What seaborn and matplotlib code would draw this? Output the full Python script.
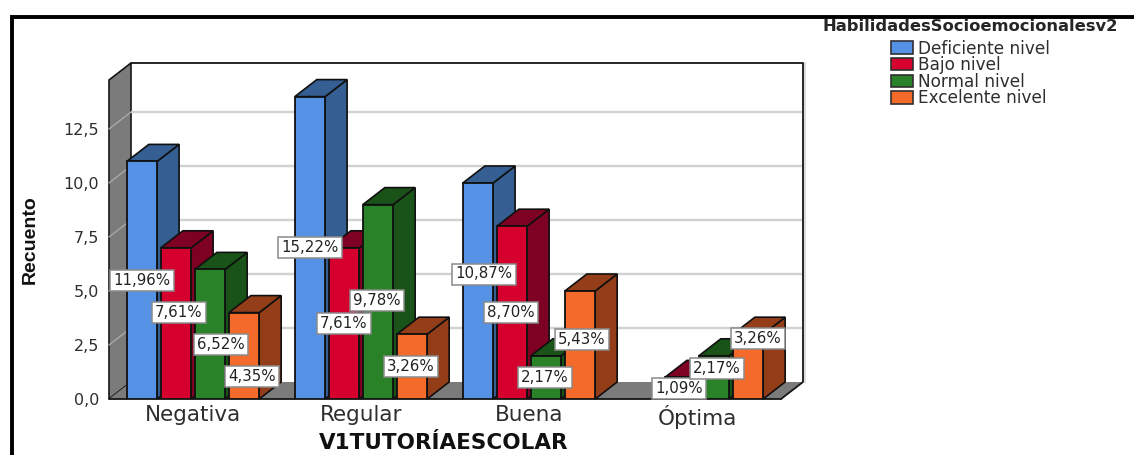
import matplotlib
matplotlib.use("Agg")
import matplotlib.pyplot as plt
from matplotlib.lines import Line2D
from matplotlib.patches import Polygon
import pandas as pd
import seaborn as sns

# Counts by tutoring rating and socio-emotional skill level
categories = ["Negativa", "Regular", "Buena", "Óptima"]
levels = ["Deficiente nivel", "Bajo nivel", "Normal nivel", "Excelente nivel"]
deficiente = [11, 14, 10, 0]
bajo = [7, 7, 8, 1]
normal = [6, 9, 2, 2]
excelente = [4, 3, 5, 3]

pct_deficiente = ["11,96%", "15,22%", "10,87%", ""]
pct_bajo = ["7,61%", "7,61%", "8,70%", "1,09%"]
pct_normal = ["6,52%", "9,78%", "2,17%", "2,17%"]
pct_excelente = ["4,35%", "3,26%", "5,43%", "3,26%"]

y_ticks = [0, 2.5, 5, 7.5, 10, 12.5]

front_colors = ["#5591e4", "#d6002f", "#2a8228", "#f46a2a"]
side_colors = ["#355e92", "#7e0022", "#1a5318", "#933e18"]

# Pixel nudges (right, up) moving value labels off one another
nudge_deficiente = [(0, 0), (0, 0), (6, 17), (0, 0)]
nudge_bajo = [(3, 11), (0, 0), (-1, 0), (-1, 0)]
nudge_normal = [(11, -10), (-1, 1), (-1, 0), (3, 9)]
nudge_excelente = [(8, -21), (-1, 0), (2, 6), (10, 28)]

W, H = 1134, 455
DEPTH_X, DEPTH_Y = 22, 17   # oblique depth of the pseudo-3D box, pixels
FONT = "DejaVu Sans"
TEXT = "#2e2e2e"

sns.set_style("white")
plt.rcParams["font.family"] = [FONT]

df = pd.DataFrame({
    "tutoria": categories * 4,
    "nivel": [lv for lv in levels for _ in categories],
    "recuento": deficiente + bajo + normal + excelente,
})

fig = plt.figure(figsize=(W / 100, H / 100), dpi=100)
ax = fig.add_axes([109 / W, 1 - 399 / H, 672 / W, 319 / H])

sns.barplot(data=df, x="tutoria", y="recuento", hue="nivel", order=categories,
            hue_order=levels, palette=front_colors, width=0.81, gap=0.11,
            saturation=1, edgecolor="#101010", linewidth=1.3, ax=ax)

ax.set_xlim(-0.5, 3.5)
ax.set_ylim(0, 319 / 21.6)
x_per_px = 4 / 672
y_per_px = (319 / 21.6) / 319
dx, dy = DEPTH_X * x_per_px, DEPTH_Y * y_per_px
x0, x1 = ax.get_xlim()
y1 = ax.get_ylim()[1]

# Box walls: left wall, floor, back plane
wall = "#7b7b7b"
frame = "#151515"
ax.add_patch(Polygon([(x0, 0), (x0 + dx, dy), (x0 + dx, y1 + dy), (x0, y1)],
                     closed=True, fc=wall, ec=frame, lw=1.2, clip_on=False, zorder=1))
ax.add_patch(Polygon([(x0, 0), (x1, 0), (x1 + dx, dy), (x0 + dx, dy)],
                     closed=True, fc=wall, ec="none", clip_on=False, zorder=1))
for v in y_ticks[1:]:
    ax.plot([x0 + dx, x1 + dx], [v + dy, v + dy], color="#d2d2d2", lw=1.7,
            clip_on=False, zorder=1.5, solid_capstyle="butt")
    ax.plot([x0, x0 + dx], [v, v + dy], color="#a8a8a8", lw=1.0,
            clip_on=False, zorder=1.5)
ax.plot([x0 + dx, x1 + dx, x1 + dx, x1], [y1 + dy, y1 + dy, dy, 0],
        color=frame, lw=1.3, clip_on=False, zorder=1.6)
ax.plot([x1 + dx + 2 * x_per_px] * 2, [dy, y1 + dy], color="#dcdcdc", lw=1.6,
        clip_on=False, zorder=1)
ax.plot([x0, x1], [0, 0], color=frame, lw=1.3, clip_on=False, zorder=1.6)

# Extrude each bar with a side and a top face, painted left to right
bars = []
for h_idx, cont in enumerate(ax.containers):
    for bar in cont:
        bars.append((bar.get_x(), bar, side_colors[h_idx]))
bars.sort(key=lambda b: b[0])
for i, (_, bar, shade) in enumerate(bars):
    left, w, h = bar.get_x(), bar.get_width(), bar.get_height()
    z = 3 + i * 0.1
    bar.set_zorder(z)
    if h == 0:
        bar.set_visible(False)
        continue
    right = left + w
    ax.add_patch(Polygon([(right, 0), (right + dx, dy), (right + dx, h + dy), (right, h)],
                         closed=True, fc=shade, ec="#101010", lw=1.2, zorder=z - 0.05, clip_on=False))
    ax.add_patch(Polygon([(left, h), (right, h), (right + dx, h + dy), (left + dx, h + dy)],
                         closed=True, fc=shade, ec="#101010", lw=1.2, zorder=z - 0.05, clip_on=False))

# Boxed percentage labels
all_pct = [pct_deficiente, pct_bajo, pct_normal, pct_excelente]
all_nudge = [nudge_deficiente, nudge_bajo, nudge_normal, nudge_excelente]
for cont, pcts, nudges in zip(ax.containers, all_pct, all_nudge):
    for bar, text, nudge in zip(cont, pcts, nudges):
        if not text:
            continue
        ax.annotate(text, xy=(bar.get_x() + bar.get_width() / 2, bar.get_height() / 2),
                    xytext=nudge, textcoords="offset pixels", ha="center", va="center",
                    fontsize=10.8, color="#222222", zorder=20, annotation_clip=False,
                    bbox=dict(boxstyle="square,pad=0.2", fc="white", ec="#8a8a8a", lw=1.1))

# Axes text
sns.despine(ax=ax, left=True, bottom=True, top=True, right=True)
ax.set_yticks(y_ticks)
ax.set_yticklabels([f"{v:.1f}".replace(".", ",") for v in y_ticks], fontsize=11.5, color=TEXT)
ax.set_xticks(range(len(categories)))
ax.set_xticklabels(categories, fontsize=15.5, color=TEXT)
ax.tick_params(axis="y", length=0, pad=7)
ax.tick_params(axis="x", length=0, pad=4)
ax.set_xlabel("")
ax.set_ylabel("")
fig.text(444 / W, 1 - 449 / H, "V1TUTORÍAESCOLAR", ha="center", va="baseline",
         fontsize=15.5, fontweight="bold", color="#111111")
fig.text(30 / W, 1 - 240 / H, "Recuento", rotation=90, ha="center", va="center",
         fontsize=14, fontweight="bold", color="#111111", family="Liberation Sans")

# Legend to the right of the box
handles, labels = ax.get_legend_handles_labels()
for patch in handles:
    patch.set_edgecolor("#303030")
    patch.set_linewidth(1.2)
leg = ax.legend(handles, labels, title="HabilidadesSocioemocionalesv2", frameon=False,
                loc="upper left", bbox_to_anchor=(823 / W, 1 - 19 / H),
                bbox_transform=fig.transFigure, fontsize=12.2, handlelength=1.3,
                handleheight=0.75, handletextpad=0.3, labelspacing=-0.08,
                borderaxespad=0, borderpad=0.0,
                title_fontproperties={"weight": "bold", "size": 11.8})
leg._legend_box.sep = 4
for t in leg.get_texts():
    t.set_color(TEXT)
leg.set_zorder(30)

# Heavy outer rule along the top and left of the panel
fig.add_artist(Line2D([11.5 / W, 1], [1 - 16.5 / H, 1 - 16.5 / H], color="black", lw=2.8,
                      solid_capstyle="butt"))
fig.add_artist(Line2D([11.5 / W, 11.5 / W], [0, 1 - 15 / H], color="black", lw=2.8,
                      solid_capstyle="butt"))

fig.savefig("out.png", dpi=100, facecolor="white")
